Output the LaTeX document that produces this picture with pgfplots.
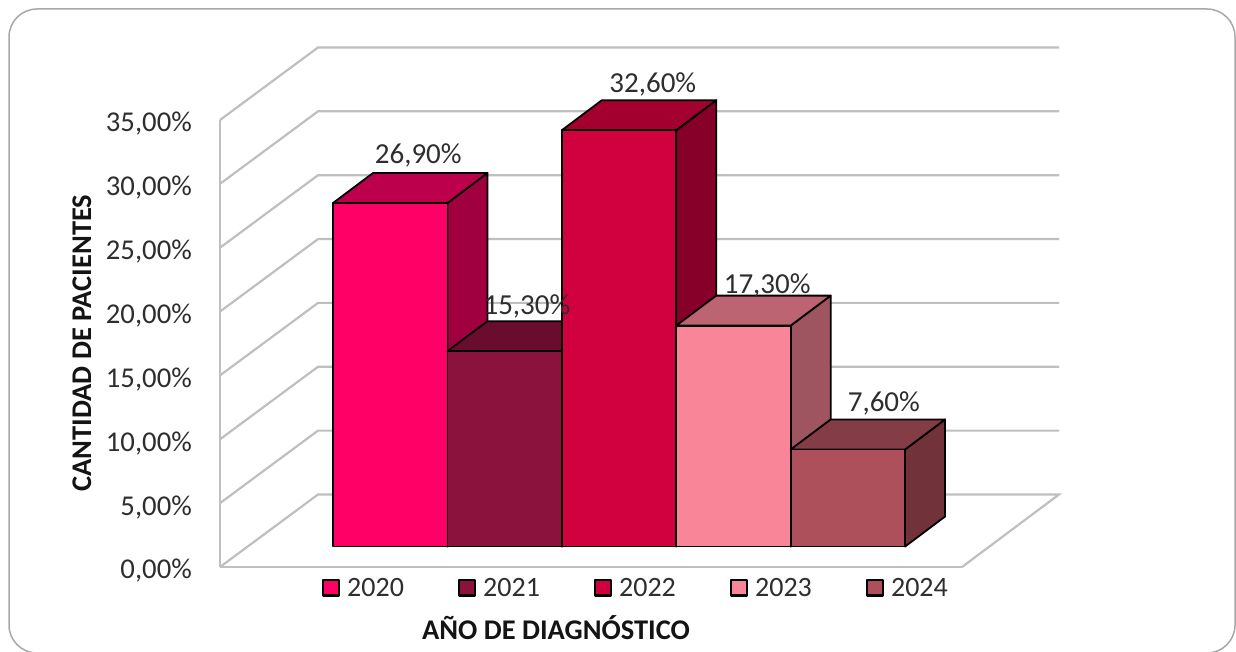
\documentclass[border=0pt]{standalone}
\usepackage{fontspec}
\setmainfont{Carlito}
\usepackage{pgfplots}
\pgfplotsset{compat=1.18}

\definecolor{wallgray}{HTML}{BFBFBF}
\definecolor{framegray}{HTML}{A8A8A8}
\definecolor{ink}{HTML}{2E2E2E}
\definecolor{axistitle}{HTML}{141414}
% front, top and side shades of the five bars
\definecolor{af}{HTML}{FF0066}\definecolor{at}{HTML}{BC004B}\definecolor{as}{HTML}{A0003F}
\definecolor{bf}{HTML}{8A123C}\definecolor{bt}{HTML}{6A0C2D}\definecolor{bs}{HTML}{5E0A28}
\definecolor{cf}{HTML}{D1003F}\definecolor{ct}{HTML}{A3002F}\definecolor{cs}{HTML}{870029}
\definecolor{df}{HTML}{F98698}\definecolor{dt}{HTML}{BC6472}\definecolor{ds}{HTML}{9E5560}
\definecolor{ef}{HTML}{AE4F5C}\definecolor{et}{HTML}{843C46}\definecolor{es}{HTML}{713339}

% oblique depth of a bar and height of its base above the front floor edge, in axis units
\newcommand{\depthx}{0.35}
\newcommand{\depthy}{2.35}
\newcommand{\basey}{1.6}

% one bar: left edge, value, year, three shades
\newcommand{\barblock}[6]{%
  \pgfmathsetmacro{\xl}{#1}%
  \pgfmathsetmacro{\xr}{#1+1}%
  \pgfmathsetmacro{\xlb}{#1+\depthx}%
  \pgfmathsetmacro{\xrb}{#1+1+\depthx}%
  \pgfmathsetmacro{\yb}{\basey}%
  \pgfmathsetmacro{\yt}{\basey+#2}%
  \pgfmathsetmacro{\ybb}{\basey+\depthy}%
  \pgfmathsetmacro{\ytb}{\basey+#2+\depthy}%
  \addplot[forget plot,draw=black,line width=1.8pt,line join=round,fill=#6]
    coordinates {(\xr,\yb) (\xrb,\ybb) (\xrb,\ytb) (\xr,\yt)} -- cycle;
  \addplot[forget plot,draw=black,line width=1.8pt,line join=round,fill=#5]
    coordinates {(\xl,\yt) (\xr,\yt) (\xrb,\ytb) (\xlb,\ytb)} -- cycle;
  \addplot[draw=black,line width=1.8pt,line join=round,fill=#4]
    coordinates {(\xl,\yb) (\xr,\yb) (\xr,\yt) (\xl,\yt)} -- cycle;
  \addlegendentry{#3}
}

% value label: left edge of the bar, value, text, shift right and shift up in axis units
\newcommand{\valuelabel}[5]{%
  \pgfmathsetmacro{\lx}{#1+0.5+\depthx/2+#4}%
  \pgfmathsetmacro{\ly}{\basey+#2+\depthy+#5}%
  \addplot[forget plot,draw=none,mark=none,point meta=explicit symbolic,nodes near coords,
    nodes near coords style={anchor=center,inner sep=0pt,text=ink,font=\fontsize{29}{32}\selectfont}]
    coordinates {(\lx,\ly)[#3]};
}

\begin{document}
\begin{tikzpicture}[x=1pt,y=1pt]
\useasboundingbox (0,0) rectangle (1236,651);
\fill[white] (0,0) rectangle (1236,651);
\draw[framegray,line width=1.5pt,rounded corners=28pt] (9,-2) rectangle (1235,642);
\begin{axis}[
  at={(220pt,84pt)},anchor=south west,
  scale only axis,width=742pt,height=447pt,
  xmin=-0.988,xmax=5.498,ymin=0,ymax=35,
  clip=false,
  axis lines*=left,
  axis line style={-,draw=wallgray,line width=2.5pt},
  xtick=\empty,
  ytick={0,5,...,35},
  yticklabels={{0,00\%},{5,00\%},{10,00\%},{15,00\%},{20,00\%},{25,00\%},{30,00\%},{35,00\%}},
  major tick length=0pt,
  y tick label style={anchor=east,inner sep=0pt,xshift=-28pt,yshift=-4pt,text=ink,font=\fontsize{28.7}{32}\selectfont},
  xlabel={AÑO DE DIAGNÓSTICO},
  ylabel={CANTIDAD DE PACIENTES},
  every axis x label/.style={at={(axis description cs:0.4528,-0.1365)},anchor=center,
    text=axistitle,font=\fontsize{28.5}{32}\selectfont\bfseries},
  every axis y label/.style={at={(axis description cs:-0.186,0.501)},anchor=center,rotate=90,
    text=axistitle,font=\fontsize{28.5}{32}\selectfont\bfseries},
  legend image code/.code={\draw[#1,line width=2.4pt] (0pt,-7.5pt) rectangle (16pt,8pt);
    \path[draw=none,fill=none] (0pt,0pt) -- (22pt,0pt);},
  legend columns=5,
  legend cell align=left,
  legend style={
    at={(axis description cs:0.1375,-0.047)},anchor=west,
    draw=none,fill=none,inner sep=0pt,outer sep=0pt,
    text=ink,font=\fontsize{28}{31}\selectfont,
    /tikz/every even column/.append style={column sep=52pt},
  },
]
% side wall and back wall lines at every tick value
\pgfplotsinvokeforeach{5,10,...,35}{
  \pgfmathsetmacro{\gy}{#1}
  \pgfmathsetmacro{\gb}{#1+5.68}
  \addplot[forget plot,wallgray,line width=2.2pt] coordinates {(-0.988,\gy) (-0.131,\gb) (6.346,\gb)};
}
% floor outline
\addplot[forget plot,wallgray,line width=2.2pt]
  coordinates {(-0.988,0) (-0.131,5.68) (6.346,5.68) (5.498,0)};

\barblock{0}{26.9}{2020}{af}{at}{as}
\barblock{1}{15.3}{2021}{bf}{bt}{bs}
\barblock{2}{32.6}{2022}{cf}{ct}{cs}
\barblock{3}{17.3}{2023}{df}{dt}{ds}
\barblock{4}{7.6}{2024}{ef}{et}{es}

\valuelabel{0}{26.9}{{26,90\%}}{0.07}{1.41}
\valuelabel{1}{15.3}{{15,30\%}}{0.02}{1.17}
\valuelabel{2}{32.6}{{32,60\%}}{0.12}{1.25}
\valuelabel{3}{17.3}{{17,30\%}}{0.12}{0.78}
\valuelabel{4}{7.6}{{7,60\%}}{0.14}{1.25}
\end{axis}
\end{tikzpicture}
\end{document}
